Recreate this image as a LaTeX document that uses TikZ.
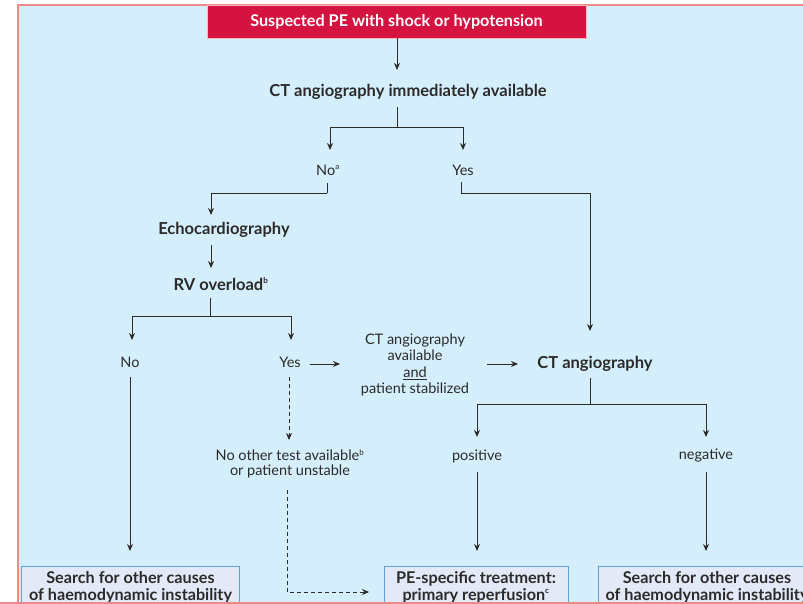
\documentclass[tikz,border=0pt]{standalone}
\usepackage{fontspec}
\setmainfont{Lato}
\usetikzlibrary{arrows.meta}
\definecolor{bgblue}{HTML}{D4EEFB}
\definecolor{framepink}{HTML}{F08A8A}
\definecolor{pered}{HTML}{D51341}
\definecolor{boxfill}{HTML}{E4E9F8}
\definecolor{boxline}{HTML}{5DA3DC}
\definecolor{ink}{HTML}{2B2B2B}
\newcommand{\supx}[1]{\textsuperscript{\fontsize{8}{8}\selectfont #1}}
\tikzset{
  tip/.style={-{Stealth[length=7pt,width=6pt]}},
  arr/.style={draw=ink, line width=0.9pt, tip},
  ln/.style={draw=ink, line width=0.9pt},
  dsh/.style={draw=ink, line width=0.8pt, dash pattern=on 4pt off 3pt},
  txt/.style={text=ink, inner sep=0pt, align=center, font=\fontsize{14.5}{15}\selectfont},
  btxt/.style={text=ink, inner sep=0pt, align=center, font=\fontsize{16.5}{18}\selectfont\bfseries},
  endbox/.style={draw=boxline, fill=boxfill, line width=1pt, text=ink, align=center,
    font=\fontsize{16.2}{17}\selectfont\bfseries, inner sep=0pt, minimum height=41pt},
}
\begin{document}
\begin{tikzpicture}[x=1pt,y=-1pt]
\useasboundingbox (0,0) rectangle (803,604);
\clip (0,0) rectangle (803,604);
\fill[white] (0,0) rectangle (803,604);
\draw[framepink, fill=bgblue, line width=2pt] (17.5,5) rectangle (830,602.5);
% start box
\node[fill=pered, draw=framepink!60, line width=0.6pt, minimum width=379pt, minimum height=33pt, inner sep=0pt,
  text=white, font=\fontsize{16.2}{18}\selectfont\bfseries] (start) at (396.5,21.5) {\raisebox{3pt}{Suspected PE with shock or hypotension}};
% nodes
\node[btxt] (ctavail) at (408,92) {CT angiography immediately available};
\node[txt] (no1) at (328,170) {No\supx{a}};
\node[txt] (yes1) at (463,170) {Yes};
\node[btxt] (echo) at (224,230) {Echocardiography};
\node[btxt] (rv) at (221,284) {RV overload\supx{b}};
\node[txt] (no2) at (130,362) {No};
\node[txt] (yes2) at (290,362) {Yes};
\node[txt, font=\fontsize{14.5}{16.3}\selectfont] (cond) at (415,365) {CT angiography\\available\\\underline{and}\\patient stabilized};
\node[btxt] (cta) at (595,364) {CT angiography};
\node[txt] (pos) at (477,456) {positive};
\node[txt] (neg) at (706,456) {negative};
\node[txt] (noother) at (290,463.5) {No other test available\supx{b}\\or patient unstable};
\node[endbox, minimum width=218pt] (box1) at (130.5,587) {Search for other causes\\of haemodynamic instability};
\node[endbox, minimum width=184pt] (box2) at (476,587) {PE-specific treatment:\\primary reperfusion\supx{c}};
\node[endbox, minimum width=218pt] (box3) at (707,587) {Search for other causes\\of haemodynamic instability};
% coordinates
\coordinate (j1) at (397,127);
\coordinate (j2) at (327,193);
\coordinate (j3) at (210,316);
\coordinate (j4) at (461,193);
\coordinate (j5) at (590,404);
\coordinate (d1) at (287,592);
\coordinate (d2) at (369,592);
% connectors
\draw[arr] (start.south -| j1) -- (397,70);
\draw[ln] (397,107) -- (j1);
\draw[arr] (j1) -| (330,150);
\draw[arr] (j1) -| (463,150);
\draw[ln] (327,183) -- (j2);
\draw[arr] (j2) -| (211,215);
\draw[arr] (211,245) -- (211,268);
\draw[ln] (210,298) -- (j3);
\draw[arr] (j3) -| (132,340);
\draw[arr] (j3) -| (291,340);
\draw[arr] (310,364) -- (340,364);
\draw[arr] (487,364) -- (518,364);
\draw[ln] (461,182) -- (j4);
\draw[arr] (j4) -| (590,331);
\draw[ln] (590,378) -- (j5);
\draw[arr] (j5) -| (477,437);
\draw[arr] (j5) -| (706,437);
\draw[arr] (477,472) -- (477,551);
\draw[arr] (706,472) -- (706,551);
\draw[arr] (130,377) -- (130,551);
\draw[dsh, tip] (289,377) -- (289,440);
\draw[dsh, tip] (287,490) -- (d1) -- (d2);
\draw[framepink, line width=2pt] (0,602.5) -- (830,602.5);
\end{tikzpicture}
\end{document}
